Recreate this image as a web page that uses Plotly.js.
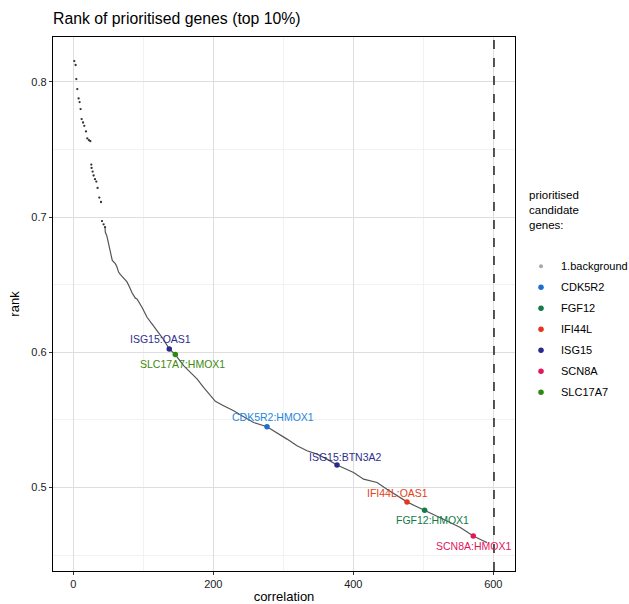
<!DOCTYPE html>
<html>
<head>
<meta charset="utf-8">
<script src="https://cdn.plot.ly/plotly-3.0.1.min.js"></script>
<style>html,body{margin:0;padding:0;background:#fff;}</style>
</head>
<body>
<div id="chart" style="width:629px;height:604px;"></div>
<script>
// ---- data ----
// sparse individual points at the top of the ranking
var topX = [1.4, 3.3, 4.3, 5.7, 7.6, 9.0, 10.4, 11.9, 13.9, 15.7, 18.1, 20.0, 22.4, 24.3,
            25.7, 26.1, 27.6, 29.0, 31.0, 32.9, 34.7, 37.1, 39.6, 41.0, 43.3, 45.3];
var topY = [0.8153, 0.8124, 0.8020, 0.7946, 0.7877, 0.7850, 0.7798, 0.7724, 0.7699, 0.7674,
            0.7633, 0.7581, 0.7568, 0.7561, 0.7388, 0.7363, 0.7336, 0.7307, 0.7280, 0.7262,
            0.7215, 0.7144, 0.7111, 0.6970, 0.6946, 0.6926];
// dense part of the ranking (points so close they read as a line)
var curveX = [45.3, 45.7, 48.1, 49.6, 51.4, 53.3, 54.3, 55.7, 57.6, 60.0, 62.4, 64.7, 67.1, 70.4,
              73.3, 76.7, 79.6, 81.4, 83.9, 88.6, 91.0, 98.1, 105.3, 112.4, 119.6, 126.7, 137.1,
              145.7, 157.6, 167.1, 176.7, 186.1, 195.7, 202.9, 214.7, 229.0, 243.3, 257.6, 276.7,
              291.0, 305.3, 319.6, 333.9, 348.1, 362.4, 376.7, 391.0, 400.4, 414.7, 433.9, 448.1,
              462.4, 476.7, 488.6, 501.9, 514.7, 533.9, 552.9, 571.4, 586.1, 591.0];
var curveY = [0.6926, 0.6889, 0.6857, 0.6827, 0.6778, 0.6753, 0.6711, 0.6679, 0.6667, 0.6655,
              0.6630, 0.6593, 0.6576, 0.6556, 0.6536, 0.6520, 0.6490, 0.6465, 0.6440, 0.6400,
              0.6395, 0.6333, 0.6259, 0.6210, 0.6161, 0.6111, 0.6025, 0.5983, 0.5901, 0.5852,
              0.5803, 0.5741, 0.5679, 0.5637, 0.5605, 0.5568, 0.5524, 0.5481, 0.5450, 0.5407,
              0.5358, 0.5309, 0.5272, 0.5247, 0.5210, 0.5166, 0.5136, 0.5111, 0.5062, 0.5037,
              0.4988, 0.4939, 0.4894, 0.4864, 0.4833, 0.4803, 0.4753, 0.4704, 0.4642, 0.4605,
              0.4593];
// highlighted gene pairs
var hlGene  = ['ISG15', 'SLC17A7', 'CDK5R2', 'ISG15', 'IFI44L', 'FGF12', 'SCN8A'];
var hlLabel = ['ISG15:OAS1', 'SLC17A7:HMOX1', 'CDK5R2:HMOX1', 'ISG15:BTN3A2', 'IFI44L:OAS1', 'FGF12:HMOX1', 'SCN8A:HMOX1'];
var hlX     = [137.1, 145.7, 276.7, 376.7, 476.7, 501.9, 571.4];
var hlY     = [0.6025, 0.5983, 0.5450, 0.5166, 0.4894, 0.4833, 0.4642];
// legend categories
var legendNames = ['1.background', 'CDK5R2', 'FGF12', 'IFI44L', 'ISG15', 'SCN8A', 'SLC17A7'];
var legendTitle = 'prioritised<br>candidate<br>genes:';
// top-10% cut-off
var cutoffX = 601;
var xTicks = [0, 200, 400, 600];
var yTicks = [0.5, 0.6, 0.7, 0.8];

// ---- styles ----
var colors = {
  '1.background': '#a9a9a9',
  'CDK5R2': '#1c6fd1',
  'FGF12': '#157a45',
  'IFI44L': '#e3361b',
  'ISG15': '#2a2a8c',
  'SCN8A': '#e5175b',
  'SLC17A7': '#2a8a12'
};
var labelColors = {
  'CDK5R2': '#1f86e0',
  'FGF12': '#137a48',
  'IFI44L': '#e2411a',
  'ISG15': '#2e2e8e',
  'SCN8A': '#e3165c',
  'SLC17A7': '#3c8a0a'
};
var labelOffsets = [[-9, -10], [7, 9], [6, -10], [9, -8], [-9, -9], [8, 10], [0, 10]];
var FONT = 'Liberation Sans, Arial, sans-serif';

var traces = [];
traces.push({
  x: curveX, y: curveY, type: 'scatter', mode: 'lines',
  line: {color: '#555555', width: 1.2}, hoverinfo: 'skip', showlegend: false
});
traces.push({
  x: topX, y: topY, type: 'scatter', mode: 'markers',
  marker: {color: '#333333', size: 2.3}, hoverinfo: 'skip', showlegend: false
});
legendNames.forEach(function (name, gi) {
  var xs = [], ys = [];
  if (name !== '1.background') {
    hlGene.forEach(function (g, i) { if (g === name) { xs.push(hlX[i]); ys.push(hlY[i]); } });
  } else { xs = [null]; ys = [null]; }
  traces.push({
    x: xs, y: ys, type: 'scatter', mode: 'markers', name: name,
    legendgroup: 'g' + gi,
    marker: {color: colors[name], size: name === '1.background' ? 4 : 5.5,
             line: {width: 0}},
    showlegend: true
  });
});

var annotations = hlLabel.map(function (lab, i) {
  return {
    x: hlX[i], y: hlY[i], xref: 'x', yref: 'y', text: lab,
    showarrow: true, arrowcolor: 'rgba(0,0,0,0)', arrowwidth: 0.1,
    ax: labelOffsets[i][0], ay: labelOffsets[i][1],
    font: {family: FONT, size: 10.5, color: labelColors[hlGene[i]]}
  };
});
// legend title drawn as its own text block
annotations.push({
  xref: 'paper', yref: 'paper', x: 1.025, y: 0.72, xanchor: 'left', yanchor: 'top',
  align: 'left', showarrow: false, text: legendTitle,
  font: {family: FONT, size: 11.5, color: '#000'}
});

var layout = {
  width: 629, height: 604,
  margin: {l: 53, r: 114, t: 37, b: 33, autoexpand: false},
  paper_bgcolor: '#ffffff', plot_bgcolor: '#ffffff',
  font: {family: FONT, color: '#000'},
  title: {text: 'Rank of prioritised genes (top 10%)', xref: 'paper', x: 0, xanchor: 'left',
          yref: 'container', y: 0.97, yanchor: 'middle',
          font: {family: FONT, size: 15.8, color: '#000'}},
  xaxis: {
    range: [-29, 631], tickvals: xTicks, ticktext: xTicks.map(String),
    showgrid: true, gridcolor: '#dedede', gridwidth: 1,
    minor: {dtick: 100, tick0: 0, showgrid: true, gridcolor: '#ececec', gridwidth: 0.7, ticks: ''},
    zeroline: false, showline: true, mirror: true, linecolor: '#000', linewidth: 1.2,
    ticks: 'outside', ticklen: 3, tickcolor: '#333', tickwidth: 1,
    tickfont: {family: FONT, size: 11, color: '#222'},
    title: {text: 'correlation', standoff: 3, font: {family: FONT, size: 13, color: '#000'}}
  },
  yaxis: {
    range: [0.4383, 0.8331], tickvals: yTicks, ticktext: yTicks.map(function (v) { return v.toFixed(1); }),
    showgrid: true, gridcolor: '#dedede', gridwidth: 1,
    minor: {dtick: 0.05, tick0: 0.45, showgrid: true, gridcolor: '#ececec', gridwidth: 0.7, ticks: ''},
    zeroline: false, showline: true, mirror: true, linecolor: '#000', linewidth: 1.2,
    ticks: 'outside', ticklen: 3, tickcolor: '#333', tickwidth: 1,
    tickfont: {family: FONT, size: 11, color: '#222'},
    title: {text: 'rank', standoff: 8, font: {family: FONT, size: 13, color: '#000'}}
  },
  shapes: [{
    type: 'line', xref: 'x', yref: 'paper', x0: cutoffX, x1: cutoffX, y0: 0, y1: 1,
    line: {color: '#000', width: 1.3, dash: 'dash'}
  }],
  annotations: annotations,
  legend: {
    x: 1.013, xanchor: 'left', y: 0.598, yanchor: 'top',
    bgcolor: 'rgba(0,0,0,0)', borderwidth: 0,
    font: {family: FONT, size: 11, color: '#000'},
    tracegroupgap: 2.0, itemsizing: 'trace'
  },
  showlegend: true
};

Plotly.newPlot('chart', traces, layout, {displayModeBar: false, staticPlot: true});
</script>
</body>
</html>
